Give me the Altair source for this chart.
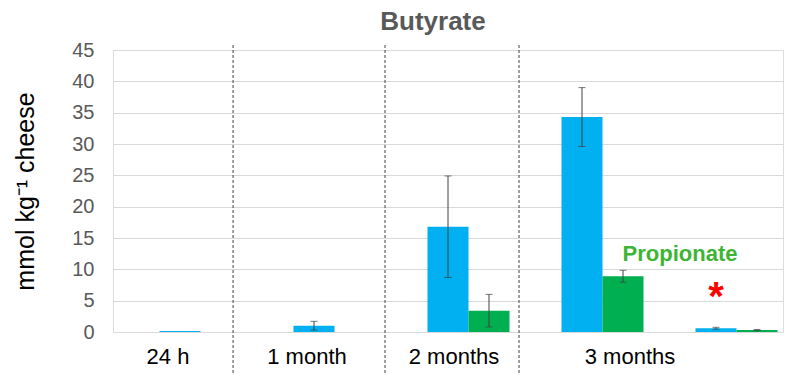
import altair as alt
import pandas as pd

categories = ["24 h", "1 month", "2 months", "3 months", "3 months*"]
butyrate = [0.15, 1.0, 16.8, 34.3, 0.6]
butyrate_sd = [0.0, 0.7, 8.1, 4.7, 0.15]
propionate = [0.0, 0.0, 3.4, 8.9, 0.3]
propionate_sd = [0.0, 0.0, 2.6, 0.95, 0.1]
y_ticks = [0, 5, 10, 15, 20, 25, 30, 35, 40, 45]

rows = []
for c, b, bs, p, ps in zip(categories, butyrate, butyrate_sd, propionate, propionate_sd):
    rows.append({"cat": c, "series": "Butyrate", "value": b, "lo": b - bs, "hi": b + bs, "sd": bs})
    rows.append({"cat": c, "series": "Propionate", "value": p, "lo": p - ps, "hi": p + ps, "sd": ps})
df = pd.DataFrame(rows)

FONT = "Liberation Sans"
W, H = 670, 282

xscale = alt.Scale(domain=categories, paddingInner=0, paddingOuter=0)
offscale = alt.Scale(domain=["none", "Butyrate", "Propionate"], paddingInner=0, paddingOuter=0.134)
yscale = alt.Scale(domain=[0, 45], nice=False)

xaxis = alt.Axis(
    title=None, domain=False, ticks=False, grid=False,
    labelFont=FONT, labelFontSize=22, labelColor="#000000", labelPadding=14,
    labelAngle=0,
    labelExpr="datum.value == '3 months*' ? '' : datum.value",
    labelOffset={"condition": [
        {"test": "datum.value == '3 months'", "value": 48},
        {"test": "datum.value == '2 months'", "value": 6},
        {"test": "datum.value == '24 h'", "value": -12},
    ], "value": -7},
)
yaxis = alt.Axis(
    title="mmol kg⁻¹ cheese", values=y_ticks, domain=False, ticks=False,
    gridColor="#D9D9D9", gridWidth=1, labelOverlap=False,
    labelFont=FONT, labelFontSize=20, labelColor="#595959", labelPadding=19,
    titleFont=FONT, titleFontSize=25, titleFontWeight="normal", titleColor="#000000",
    titlePadding=33,
)


def X(band=None):
    if band is None:
        return alt.X("cat:N", scale=xscale, sort=categories, axis=xaxis)
    return alt.X("cat:N", scale=xscale, sort=categories, axis=xaxis, bandPosition=band)


def Y(field):
    return alt.Y(field, scale=yscale, axis=yaxis)


XO = alt.XOffset("series:N", scale=offscale)

base = alt.Chart(df)

bars = base.mark_bar().encode(
    x=X(), xOffset=XO, y=Y("value:Q"),
    color=alt.Color("series:N", scale=alt.Scale(domain=["Butyrate", "Propionate"], range=["#00B0F0", "#00B050"]), legend=None),
)

err = base.transform_filter("datum.sd > 0")
err_rule = err.mark_rule(color="#404040", strokeWidth=1).encode(
    x=X(), xOffset=XO, y=Y("lo:Q"), y2="hi:Q",
)
cap_hi = err.mark_tick(color="#404040", thickness=1, size=7).encode(
    x=X(), xOffset=XO, y=Y("hi:Q"),
)
cap_lo = err.mark_tick(color="#404040", thickness=1, size=7).encode(
    x=X(), xOffset=XO, y=Y("lo:Q"),
)

sep_style = dict(color="#404040", strokeWidth=1, strokeDash=[3, 2], clip=False)
sep1 = alt.Chart(pd.DataFrame({"cat": ["24 h"]})).mark_rule(**sep_style).encode(
    x=X(0.896), y=alt.value(-5), y2=alt.value(H + 45),
)
sep2 = alt.Chart(pd.DataFrame({"cat": ["2 months", "3 months"]})).mark_rule(**sep_style).encode(
    x=X(0.03), y=alt.value(-5), y2=alt.value(H + 45),
)

annot_df = pd.DataFrame({"cat": ["3 months*"], "y": [11.3], "label": ["Propionate"]})
prop_text = alt.Chart(annot_df).mark_text(
    font=FONT, fontSize=22, fontWeight="bold", color="#3DB534", align="center", baseline="alphabetic", dx=31
).encode(
    x=X(0), y=Y("y:Q"), text="label:N",
)
star_df = pd.DataFrame({"cat": ["3 months*"], "y": [3.5], "label": ["*"]})
star = alt.Chart(star_df).mark_text(
    font=FONT, fontSize=40, fontWeight="bold", color="#FF0000", align="center", baseline="alphabetic"
).encode(
    x=X(), y=Y("y:Q"), text="label:N",
)

chart = alt.layer(bars, err_rule, cap_hi, cap_lo, sep1, sep2, prop_text, star).properties(
    width=W, height=H,
    title=alt.TitleParams("Butyrate", font=FONT, fontSize=26, fontWeight="bold", color="#595959",
                          anchor="middle", dx=-15, dy=33, offset=12, baseline="bottom"),
    autosize=alt.AutoSizeParams(type="none"),
    padding={"left": 113, "top": 50, "right": 23, "bottom": 43},
).configure_view(strokeWidth=0).configure(background="white")

chart.save("out.html", embed_options={"renderer": "svg", "actions": False})
